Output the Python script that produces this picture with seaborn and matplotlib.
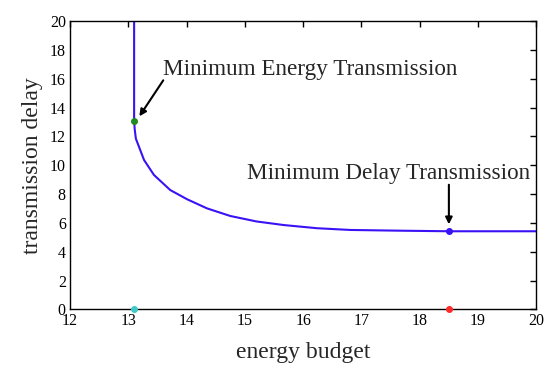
import pandas as pd
import matplotlib
matplotlib.use("Agg")
import matplotlib.pyplot as plt
import seaborn as sns

# trade-off curve
energy = [13.1, 13.1, 13.11, 13.13, 13.27, 13.44, 13.72, 14.01, 14.35, 14.75,
          15.2, 15.67, 16.24, 16.81, 17.66, 18.5, 20.0]
delay = [20.0, 13.08, 12.5, 11.85, 10.37, 9.33, 8.28, 7.64, 7.01, 6.48,
         6.1, 5.85, 5.63, 5.51, 5.46, 5.42, 5.42]

min_energy_pt = (13.1, 13.08)
min_delay_pt = (18.5, 5.42)
min_energy_axis = (13.1, 0.0)
min_delay_axis = (18.5, 0.0)

x_ticks = [12, 13, 14, 15, 16, 17, 18, 19, 20]
y_ticks = [0, 2, 4, 6, 8, 10, 12, 14, 16, 18, 20]

sns.set_style("white")
plt.rcParams["font.family"] = ["Liberation Serif", "DejaVu Serif"]

fig = plt.figure(figsize=(5.56, 3.70), dpi=100)
ax = fig.add_axes([0.1259, 0.164, 0.8387, 0.7785])

df = pd.DataFrame({"energy": energy, "delay": delay})
sns.lineplot(data=df, x="energy", y="delay", sort=False, estimator=None,
             color="#3a12f5", linewidth=1.5, ax=ax)

ax.plot(*min_energy_pt, "o", color="#1f8a1f", markersize=4, zorder=5)
ax.plot(*min_delay_pt, "o", color="#3a12f5", markersize=4, zorder=5)
ax.plot(*min_energy_axis, "o", color="#40c8c8", markersize=4, zorder=5, clip_on=False)
ax.plot(*min_delay_axis, "o", color="#ff2a2a", markersize=4, zorder=5, clip_on=False)

arrow = dict(arrowstyle="-|>", color="black", lw=1.5, mutation_scale=10,
             shrinkA=0, shrinkB=0)
ax.annotate("", xy=(13.19, 13.4), xytext=(13.6, 15.9), arrowprops=arrow)
ax.text(13.6, 16.65, "Minimum Energy Transmission", fontsize=16.7,
        ha="left", va="center")
ax.annotate("", xy=(18.5, 5.9), xytext=(18.5, 8.65), arrowprops=arrow)
ax.text(17.46, 9.45, "Minimum Delay Transmission", fontsize=16.7,
        ha="center", va="center")

ax.set_xlim(12, 20)
ax.set_ylim(0, 20)
ax.set_xticks(x_ticks)
ax.set_yticks(y_ticks)
ax.set_xlabel("energy budget", fontsize=17, labelpad=9)
ax.set_ylabel("transmission delay", fontsize=17, labelpad=5)
ax.tick_params(direction="in", length=4, width=1, labelsize=11.5, pad=3,
               top=True, right=True, colors="black")
for s in ax.spines.values():
    s.set_visible(True)
    s.set_color("black")
    s.set_linewidth(1)

fig.savefig("out.png", dpi=100)
